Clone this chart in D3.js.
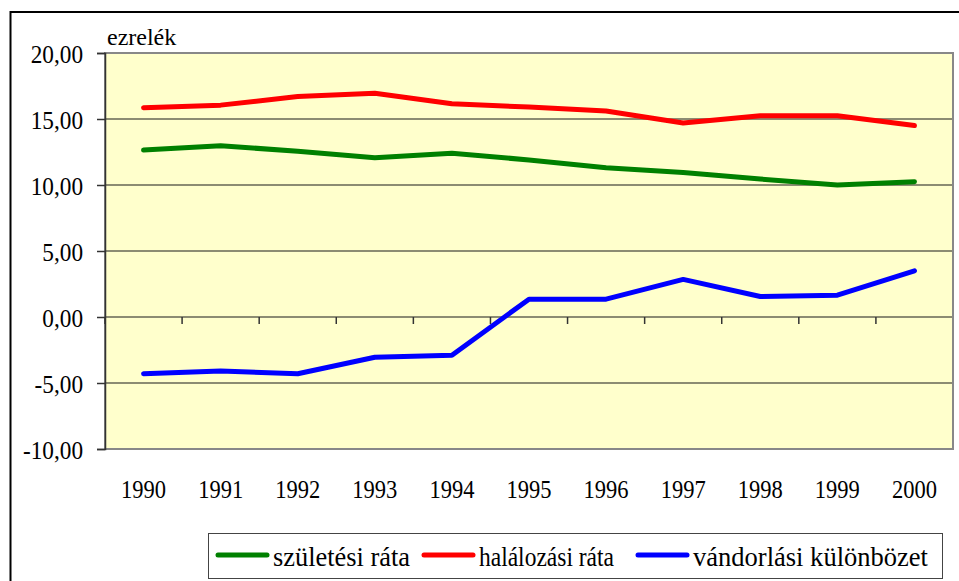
<!DOCTYPE html>
<html>
<head>
<meta charset="utf-8">
<script src="https://cdn.jsdelivr.net/npm/d3@7"></script>
<style>
  body { margin: 0; background: #ffffff; }
  svg { display: block; }
  .serif { font-family: 'Liberation Serif', 'Times New Roman', serif; fill: #000000; }
</style>
</head>
<body>
<svg></svg>
<script>
  const years = ['1990', '1991', '1992', '1993', '1994', '1995', '1996', '1997', '1998', '1999', '2000'];
  const szuletesi = [12.65, 12.98, 12.55, 12.07, 12.4, 11.9, 11.3, 10.95, 10.45, 10.0, 10.25];
  const halalozasi = [15.85, 16.05, 16.7, 16.95, 16.15, 15.9, 15.6, 14.7, 15.25, 15.25, 14.5];
  const vandorlasi = [-4.3, -4.1, -4.3, -3.05, -2.9, 1.35, 1.35, 2.85, 1.55, 1.65, 3.5];
  const yTicks = [-10, -5, 0, 5, 10, 15, 20];
  const seriesNames = ['születési ráta', 'halálozási ráta', 'vándorlási különbözet'];
  const seriesColors = ['#008000', '#ff0000', '#0000ff'];

  const width = 959, height = 581;
  const plotLeft = 105, plotRight = 953, plotTop = 53, plotBottom = 449;

  let svg = d3.select('svg')
    .attr('width', width)
    .attr('height', height);

  // squeeze text horizontally, the original was drawn a bit narrow
  function squeeze(sel, k) {
    sel.each(function () {
      let w = this.getComputedTextLength();
      d3.select(this)
        .attr('textLength', w * k)
        .attr('lengthAdjust', 'spacingAndGlyphs');
    });
  }

  // outer frame (runs off the right and bottom edge)
  svg.append('rect')
    .attr('x', 10.5).attr('y', 12)
    .attr('width', 960).attr('height', 600)
    .attr('fill', '#ffffff')
    .attr('stroke', '#000000')
    .attr('stroke-width', 2);

  let x = d3.scaleBand().domain(years).range([plotLeft, plotRight]);
  let y = d3.scaleLinear().domain([-10, 20]).range([plotBottom, plotTop]);

  svg.append('rect')
    .attr('x', plotLeft).attr('y', plotTop)
    .attr('width', plotRight - plotLeft).attr('height', plotBottom - plotTop)
    .attr('fill', '#ffffcc');

  // horizontal gridlines
  svg.append('g')
    .selectAll('line')
    .data(yTicks)
    .join('line')
    .attr('x1', plotLeft).attr('x2', plotRight)
    .attr('y1', d => y(d)).attr('y2', d => y(d))
    .attr('stroke', '#666655')
    .attr('stroke-width', 1.5);

  // plot border
  svg.append('rect')
    .attr('x', plotLeft).attr('y', plotTop)
    .attr('width', plotRight - plotLeft).attr('height', plotBottom - plotTop)
    .attr('fill', 'none')
    .attr('stroke', '#888888')
    .attr('stroke-width', 2);

  // y axis
  let yAxis = d3.axisLeft(y)
    .tickValues(yTicks)
    .tickSize(8)
    .tickPadding(14)
    .tickFormat(d => d3.format('.2f')(d).replace('.', ',').replace('−', '-'));

  let gy = svg.append('g')
    .attr('transform', `translate(${plotLeft},0)`)
    .call(yAxis);
  gy.select('.domain').attr('stroke', '#333333').attr('stroke-width', 1.5);
  gy.selectAll('.tick line').attr('stroke', '#333333').attr('stroke-width', 1.5);
  gy.selectAll('.tick text')
    .attr('class', 'serif')
    .attr('font-size', 25)
    .attr('dy', '0.36em')
    .call(squeeze, 0.93);

  // x axis sits at zero, labels moved below the plot
  let xAxis = d3.axisBottom(x).tickSize(7).tickFormat('');
  let gx = svg.append('g')
    .attr('transform', `translate(0,${y(0)})`)
    .call(xAxis);
  gx.select('.domain').remove();
  gx.selectAll('.tick line')
    .attr('transform', `translate(${-x.bandwidth() / 2},0)`)
    .attr('stroke', '#333333')
    .attr('stroke-width', 1.5);

  svg.append('g')
    .selectAll('text')
    .data(years)
    .join('text')
    .attr('class', 'serif')
    .attr('x', d => x(d) + x.bandwidth() / 2)
    .attr('y', 498)
    .attr('text-anchor', 'middle')
    .attr('font-size', 25)
    .text(d => d)
    .call(squeeze, 0.9);

  svg.append('text')
    .attr('class', 'serif')
    .attr('x', 107)
    .attr('y', 45)
    .attr('font-size', 24)
    .text('ezrelék');

  // lines
  let lineGenerator = d3.line()
    .x((d, i) => x(years[i]) + x.bandwidth() / 2)
    .y(d => y(d));

  [szuletesi, halalozasi, vandorlasi].forEach((values, i) => {
    svg.append('path')
      .attr('d', lineGenerator(values))
      .attr('fill', 'none')
      .attr('stroke', seriesColors[i])
      .attr('stroke-width', 5)
      .attr('stroke-linecap', 'round')
      .attr('stroke-linejoin', 'round');
  });

  // legend
  let legend = svg.append('g');
  legend.append('rect')
    .attr('x', 208.5).attr('y', 533.5)
    .attr('width', 734).attr('height', 45)
    .attr('fill', '#ffffff')
    .attr('stroke', '#444444')
    .attr('stroke-width', 1);

  let legendX = [218, 424, 638];
  let legendTextWidth = [137, 135, 235];
  seriesNames.forEach((name, i) => {
    legend.append('line')
      .attr('x1', legendX[i]).attr('x2', legendX[i] + 49)
      .attr('y1', 555).attr('y2', 555)
      .attr('stroke', seriesColors[i])
      .attr('stroke-width', 5)
      .attr('stroke-linecap', 'round');
    legend.append('text')
      .attr('class', 'serif')
      .attr('x', legendX[i] + 55)
      .attr('y', 566)
      .attr('font-size', 27)
      .attr('textLength', legendTextWidth[i])
      .attr('lengthAdjust', 'spacingAndGlyphs')
      .text(name);
  });
</script>
</body>
</html>
